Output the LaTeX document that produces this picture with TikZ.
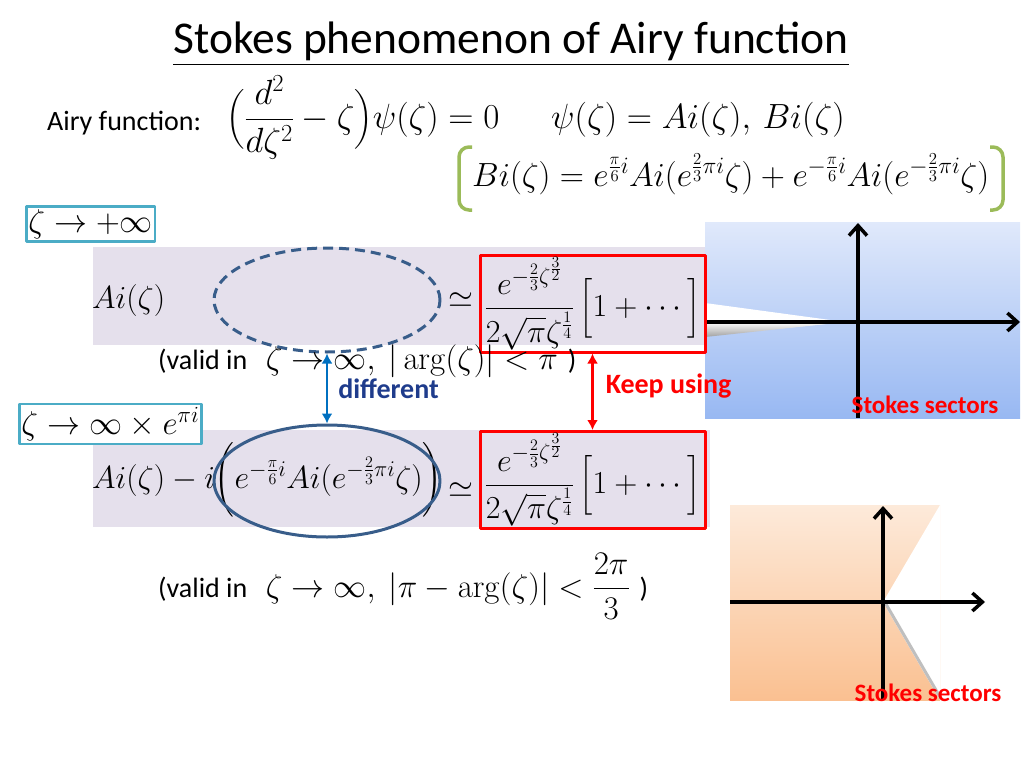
\documentclass[tikz,border=0pt]{standalone}
\usepackage{fix-cm}
\usepackage{amsmath}
\usepackage[no-math]{fontspec}
\setmainfont{Carlito}
\usetikzlibrary{arrows.meta,positioning,shapes.geometric}

\definecolor{bandlav}{RGB}{229,224,236}
\definecolor{boxteal}{HTML}{4BACC6}
\definecolor{ellblue}{HTML}{385D8A}
\definecolor{arrowblue}{HTML}{0070C0}
\definecolor{navytext}{RGB}{31,60,140}
\definecolor{greenbr}{HTML}{9BBB59}
\definecolor{skytop}{RGB}{224,233,251}
\definecolor{skybot}{RGB}{152,184,242}
\definecolor{peachtop}{RGB}{253,234,218}
\definecolor{peachbot}{RGB}{250,192,145}

\begin{document}
\begin{tikzpicture}[x=1pt,y=-1pt,>={Latex[length=10pt,width=11pt]},line join=round,
                    every node/.style={inner sep=0pt}]

  \tikzstyle{sans} = [font=\fontsize{28}{34}\selectfont]
  \tikzstyle{topmath} = [font=\fontsize{35}{42}\selectfont]
  \tikzstyle{rowmath} = [font=\fontsize{32}{38}\selectfont]
  \tikzstyle{validmath} = [font=\fontsize{33}{40}\selectfont]
  \tikzstyle{limbox} = [draw=boxteal, line width=2.5pt, fill=white, inner xsep=2pt, inner ysep=3pt, font=\fontsize{33}{40}\selectfont]
  \tikzstyle{keepbox} = [draw=red, line width=3pt, minimum width=225pt, minimum height=97pt, rowmath]
  \tikzstyle{dashring} = [ellipse, draw=ellblue, line width=3pt, dash pattern=on 10pt off 6pt, minimum width=226pt, minimum height=104pt]
  \tikzstyle{fullring} = [ellipse, draw=ellblue, line width=3pt, minimum width=226pt, minimum height=112pt]
  \tikzstyle{bracket} = [draw=greenbr, line width=3.5pt, rounded corners=10pt]
  \tikzstyle{axis} = [line width=3.5pt, -{Straight Barb[length=10pt,width=18pt]}]
  \tikzstyle{sector} = [text=red, font=\fontsize{25}{30}\selectfont\bfseries]
  \tikzstyle{note} = [font=\fontsize{28}{34}\selectfont\bfseries]

  \useasboundingbox (0,0) rectangle (1024,768);

  \node[anchor=base, font=\fontsize{45.5}{54}\selectfont] (title) at (511,54) {\underline{Stokes phenomenon of Airy function}};
  \node[sans, anchor=base west] (airy) at (47,130) {Airy function:};
  \node[topmath, anchor=base west] (eqA) at (226,128) {$\Big(\dfrac{d^2}{d\zeta^2}-\zeta\Big)\psi(\zeta)=0$};
  \node[topmath, anchor=base west] (eqB) at (551,128) {$\psi(\zeta)=Ai(\zeta),\,Bi(\zeta)$};
  \node[topmath, font=\fontsize{33.5}{40}\selectfont, anchor=base west] (eqC) at (472,186) {$Bi(\zeta)=e^{\frac{\pi}{6}i}Ai(e^{\frac{2}{3}\pi i}\zeta)+e^{-\frac{\pi}{6}i}Ai(e^{-\frac{2}{3}\pi i}\zeta)$};
  \draw[bracket] (472,147) -- (459,147) -- (459,210) -- (472,210);
  \draw[bracket] (990,147) -- (1003,147) -- (1003,210) -- (990,210);

  \fill[bandlav] (93,247) rectangle (710,345);
  \fill[bandlav] (93,430) rectangle (710,527);

  % sector pictures
  \shade[top color=skytop, bottom color=skybot] (705,222) rectangle (1020,418);
  \fill[white] (705,303) -- (845,322) -- (705,336) -- cycle;
  \shade[top color=white, bottom color=gray!75] (705,322) -- (845,322) -- (705,337) -- cycle;
  \draw[axis] (705,322) -- (1020,322);
  \draw[axis] (858,418) -- (858,223);
  \node[sector] (S1) at (925,405) {Stokes sectors};

  \shade[top color=peachtop, bottom color=peachbot] (730,505) rectangle (940,700);
  \fill[white] (883,602) -- (940,505) -- (940,700) -- cycle;
  \begin{scope}
    \clip (883,602) -- (940,505) -- (940,700) -- cycle;
    \draw[gray!50, line width=6pt] (883,602) -- (940,700);
  \end{scope}
  \draw[axis] (730,602) -- (985,602);
  \draw[axis] (883,700) -- (883,506);
  \node[sector] (S2) at (928,693) {Stokes sectors};

  \node[limbox, anchor=west] (lim1) at (25,224) {$\zeta\to+\infty$};
  \node[limbox, anchor=west] (lim2) at (18,424) {$\zeta\to\infty\times e^{\pi i}$};

  \node[rowmath, anchor=west] (ai1) at (92,300) {$Ai(\zeta)$};
  \node[dashring] (E1) at (327,300) {};
  \node[rowmath] (sim1) at (461,300) {$\simeq$};
  \node[keepbox] (R1) at (592.5,303.5) {$\dfrac{e^{-\frac{2}{3}\zeta^{\frac{3}{2}}}}{2\sqrt{\pi}\zeta^{\frac{1}{4}}}\,\Big[1+\cdots\Big]$};

  \node[rowmath, anchor=west] (ai2) at (92,480) {$Ai(\zeta)-i\bigg(e^{-\frac{\pi}{6}i}Ai(e^{-\frac{2}{3}\pi i}\zeta)\bigg)$};
  \node[fullring] (E2) at (327,481) {};
  \node[rowmath] (sim2) at (461,490) {$\simeq$};
  \node[keepbox] (R2) at (592.5,480) {$\dfrac{e^{-\frac{2}{3}\zeta^{\frac{3}{2}}}}{2\sqrt{\pi}\zeta^{\frac{1}{4}}}\,\Big[1+\cdots\Big]$};

  \node[sans, anchor=base west] (v1) at (158,369) {(valid in};
  \node[validmath, right=18pt of v1.base east, anchor=base west] (v1m) {$\zeta\to\infty,\ |\arg(\zeta)|<\pi$\hspace{10pt}{\fontsize{28}{34}\selectfont)}};
  \node[sans, anchor=base west] (v2) at (158,597) {(valid in};
  \node[validmath, right=18pt of v2.base east, anchor=base west] (v2m) {$\zeta\to\infty,\ |\pi-\arg(\zeta)|<\dfrac{2\pi}{3}$\hspace{10pt}{\fontsize{28}{34}\selectfont)}};

  \draw[<->, arrowblue, line width=2.5pt] (E1.south) -- node[note, text=navytext, right=10pt] {different} (E2.north);
  \draw[<->, red, line width=2.5pt] (R1.south) -- node[note, text=red, right=12pt, yshift=6pt] {Keep using} (R2.north);

\end{tikzpicture}
\end{document}
